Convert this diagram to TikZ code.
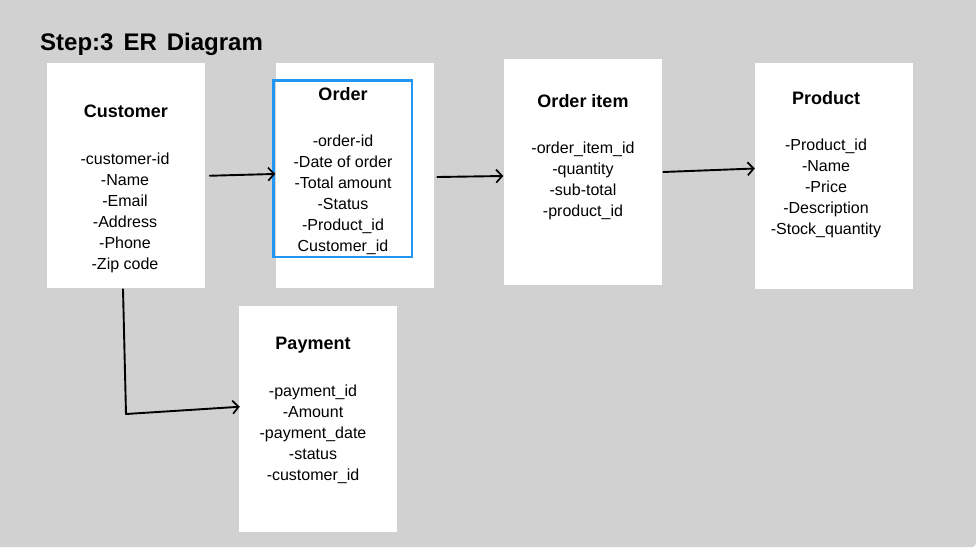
\documentclass[tikz,border=0pt]{standalone}
\usepackage{fontspec}
\setmainfont{Liberation Sans}
\usetikzlibrary{arrows.meta,calc}
\definecolor{bggray}{RGB}{209,209,209}
\definecolor{selblue}{RGB}{33,150,243}
\begin{document}
\begin{tikzpicture}[x=1pt,y=-1pt,
  ent/.style={fill=white,draw=none,minimum width=158pt,minimum height=225.5pt,inner sep=0pt},
  enttitle/.style={anchor=base,inner sep=0pt,font=\fontsize{18}{22}\selectfont\bfseries},
  attrs/.style={anchor=north,inner sep=0pt,align=center,font=\fontsize{16}{20.85}\selectfont},
  arr/.style={line width=1.9pt,line cap=round,-{Straight Barb[length=6pt,width=13pt,line width=1.7pt]}},
  link/.style={line width=1.9pt,line cap=round}]
\fill[white] (0,0) rectangle (976,549);
\fill[bggray] (0,0) -- (976,0) -- (976,543) arc[start angle=0,end angle=90,radius=4] -- (0,547) -- cycle;
\useasboundingbox (0,0) rectangle (976,549);

\node[anchor=base west,inner sep=0pt,font=\fontsize{24}{28}\selectfont\bfseries] (title) at (40,50) {Step:3\hspace{10pt}ER\hspace{10pt}Diagram};

% entity boxes
\node[ent] (cust) at (126,175.25) {};
\node[ent] (ord) at (354.5,175.25) {};
\node[ent] (item) at (583,171.75) {};
\node[ent] (prod) at (833.5,175.75) {};
\node[ent] (pay) at (318,418.75) {};
\node[draw=selblue,line width=2.7pt,minimum width=138.5pt,minimum height=176.5pt,inner sep=0pt] (ordsel) at (342.75,168.75) {};

% titles
\node[enttitle] (custT) at (126,117.5) {Customer};
\node[enttitle] (ordT) at (343,100.5) {Order};
\node[enttitle] (itemT) at (583,107.5) {Order item};
\node[enttitle] (prodT) at (826,104.5) {Product};
\node[enttitle] (payT) at (313,349.5) {Payment};

% attributes
\node[attrs] (custA) at (125,150) {\strut-customer-id\\-Name\\-Email\\-Address\\-Phone\\-Zip code};
\node[attrs] (ordA) at (343,132) {\strut-order-id\\-Date of order\\-Total amount\\-Status\\-Product\_id\\Customer\_id};
\node[attrs] (itemA) at (583,139) {\strut-order\_item\_id\\-quantity\\-sub-total\\-product\_id};
\node[attrs] (prodA) at (826,136) {\strut-Product\_id\\-Name\\-Price\\-Description\\-Stock\_quantity};
\node[attrs] (payA) at (313,382) {\strut-payment\_id\\-Amount\\-payment\_date\\-status\\-customer\_id};

% connector end points
\coordinate (c1s) at ($(cust.east)+(4.5,0.5)$);
\coordinate (c1e) at ($(ord.west)+(0,-1.3)$);
\coordinate (c2s) at ($(ord.east)+(3.5,1.75)$);
\coordinate (c2e) at ($(item.west)+(-0.5,4.25)$);
\coordinate (c3s) at ($(item.east)+(1,0.25)$);
\coordinate (c3e) at ($(prod.west)+(0.5,-7.25)$);
\coordinate (c4s) at ($(cust.south)+(-3,1)$);
\coordinate (c4m) at (126,414);
\coordinate (c4e) at ($(pay.west)+(1,-12)$);

\draw[arr] (c1s) -- (c1e);
\draw[arr] (c2s) -- (c2e);
\draw[arr] (c3s) -- (c3e);
\draw[arr,line join=round] (c4s) -- (c4m) -- (c4e);
\end{tikzpicture}
\end{document}
